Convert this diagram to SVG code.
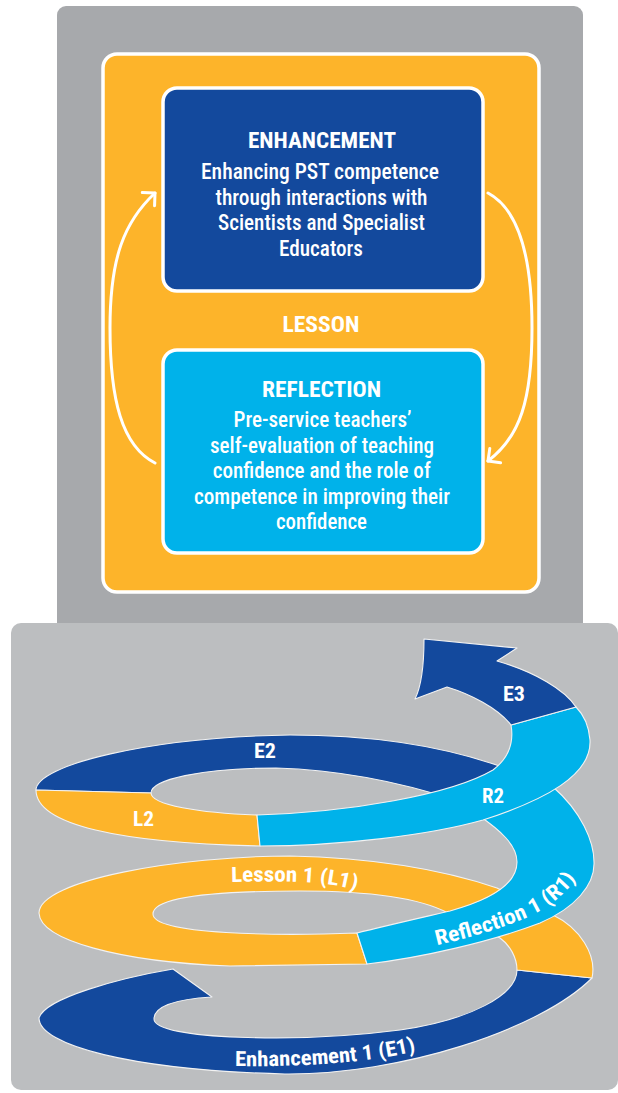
<svg xmlns="http://www.w3.org/2000/svg" width="618" height="1093" viewBox="0 0 618 1093">
<defs>
<style>
.t{font-family:'Roboto Condensed','Liberation Sans Narrow','DejaVu Sans Condensed',Roboto,'Liberation Sans',sans-serif;fill:#fff;text-anchor:middle}
.hd{font-size:22.5px;font-weight:700}
.bd{font-size:21.5px;font-weight:500}
.sl{font-size:21px;font-weight:700}
.st{text-anchor:start}
.box{stroke:#fff;stroke-width:3.5}
.band{stroke:#f2f2f2;stroke-width:1.1;stroke-linejoin:round}
.db{fill:#13499d}
.lb{fill:#00b2ea}
.or{fill:#fdb42a}
.cyc{fill:none;stroke:#fff;stroke-width:3;stroke-linecap:round}
</style>
<marker id="ah" viewBox="-12 -11 14 22" markerWidth="14" markerHeight="22" refX="0" refY="0" orient="auto" markerUnits="userSpaceOnUse" overflow="visible">
<path d="M-9,-9 L0,0 L-9,9" fill="none" stroke="#fff" stroke-width="3" stroke-linecap="round" stroke-linejoin="round"/>
</marker>
<path id="pL1" d="M231,882 C290,881 325,880 362,892"/>
<path id="pE1" d="M233,1066 C300,1067 370,1063 420,1050"/>
<path id="pR1" d="M434,946 C480,935 525,922 548,906 C566,893 579,878 588,858"/>
</defs>

<g id="panels">
<rect x="57" y="6" width="526" height="640" rx="9" fill="#a7a9ac"/>
<rect x="11" y="623" width="607" height="467" rx="10" fill="#bcbec0"/>
</g>

<g id="lesson">
<rect class="box" x="103" y="54" width="436" height="538" rx="14" fill="#fdb42a"/>
<text class="t hd" x="321" y="332" textLength="77" lengthAdjust="spacingAndGlyphs">LESSON</text>
</g>

<g id="enhancement">
<rect class="box" x="163" y="88" width="320" height="203" rx="14" fill="#13499d"/>
<text class="t hd" x="322" y="148" textLength="148" lengthAdjust="spacingAndGlyphs">ENHANCEMENT</text>
<text class="t bd" x="320" y="179" textLength="238" lengthAdjust="spacingAndGlyphs">Enhancing PST competence</text>
<text class="t bd" x="321.5" y="204.5" textLength="212" lengthAdjust="spacingAndGlyphs">through interactions with</text>
<text class="t bd" x="321.5" y="230" textLength="207" lengthAdjust="spacingAndGlyphs">Scientists and Specialist</text>
<text class="t bd" x="321" y="255.5" textLength="84" lengthAdjust="spacingAndGlyphs">Educators</text>
</g>

<g id="reflection">
<rect class="box" x="163" y="350" width="320" height="203" rx="14" fill="#00b2ea"/>
<text class="t hd" x="321.5" y="397" textLength="119" lengthAdjust="spacingAndGlyphs">REFLECTION</text>
<text class="t bd" x="322.5" y="427" textLength="178" lengthAdjust="spacingAndGlyphs">Pre-service teachers’</text>
<text class="t bd" x="322" y="452.6" textLength="224" lengthAdjust="spacingAndGlyphs">self-evaluation of teaching</text>
<text class="t bd" x="321.7" y="478.2" textLength="218" lengthAdjust="spacingAndGlyphs">confidence and the role of</text>
<text class="t bd" x="322" y="503.8" textLength="256" lengthAdjust="spacingAndGlyphs">competence in improving their</text>
<text class="t bd" x="321.5" y="529.4" textLength="91" lengthAdjust="spacingAndGlyphs">confidence</text>
</g>

<g id="connectors">
<path class="cyc" d="M155,463 C122,446 110,400 110,328 C110,258 124,222 155,193" marker-end="url(#ah)"/>
<path class="cyc" d="M488,193 C520,210 532,260 532,328 C532,400 520,437 488,461" marker-end="url(#ah)"/>
</g>

<g id="spiral">
<g id="E1"><path class="band db" d="M173,969 C120,978 45,998 39,1018 C39,1045 130,1070 285,1074 C400,1075 540,1030 592,978 L517,970 C517,995 470,1020 400,1030 C300,1043 154,1040 154,1019 C154,1005 180,999 212,997 Z"/></g>
<g id="L1"><path class="band or" d="M592,978 C597,955 580,928 553,915 L497,888 C450,872 380,858 290,856 C180,856 39,880 39,913 C40,940 120,962 230,966 L367,964 L357,933 C280,936 153,935 153,914 C153,895 230,891 300,891 C370,891 420,898 448,913 L500,938 C510,945 517,958 517,970 Z"/></g>
<g id="R1"><path class="band lb" d="M357,933 L367,964 C420,958 490,942 540,923 C575,908 595,885 594,862 C594,842 582,812 552,786 L515,793 L478,815 C500,830 517,845 517,862 C517,885 490,900 450,911 C420,918 385,926 357,933 Z"/></g>
<g id="E2"><path class="band db" d="M36,790 C36,765 150,737 290,735 C380,735 450,748 505,768 L455,800 C400,782 340,770 276,768 C200,768 151,780 151,793 Z"/></g>
<g id="L2"><path class="band or" d="M36,790 C36,825 120,843 260,846 L257,815 C200,813 151,805 151,793 Z"/></g>
<g id="R2"><path class="band lb" d="M257,815 L260,846 C340,846 430,835 483,820 C545,800 592,775 590,740 C589,727 585,716 576,707 L511,725 C514,742 510,757 493,770 C450,795 350,812 257,815 Z"/></g>
<g id="E3"><path class="band db" d="M511,725 L576,707 C565,690 535,672 497,661 L517,648 L424,639 C424,660 422,685 415,699 L447,687 C470,694 498,708 511,725 Z"/></g>
<g id="labels">
<text class="t sl" x="265" y="758" textLength="22" lengthAdjust="spacingAndGlyphs">E2</text>
<text class="t sl" x="143.5" y="826" textLength="21" lengthAdjust="spacingAndGlyphs">L2</text>
<text class="t sl" x="493" y="803" textLength="22" lengthAdjust="spacingAndGlyphs">R2</text>
<text class="t sl" x="514" y="701" textLength="22" lengthAdjust="spacingAndGlyphs">E3</text>
<text class="t sl st"><textPath href="#pL1" textLength="126" lengthAdjust="spacingAndGlyphs">Lesson 1 (L1)</textPath></text>
<text class="t sl st"><textPath href="#pE1" textLength="182" lengthAdjust="spacingAndGlyphs" startOffset="2">Enhancement 1 (E1)</textPath></text>
<text class="t sl st"><textPath href="#pR1" textLength="158" lengthAdjust="spacingAndGlyphs" startOffset="3">Reflection 1 (R1)</textPath></text>
</g>
</g>
</svg>
